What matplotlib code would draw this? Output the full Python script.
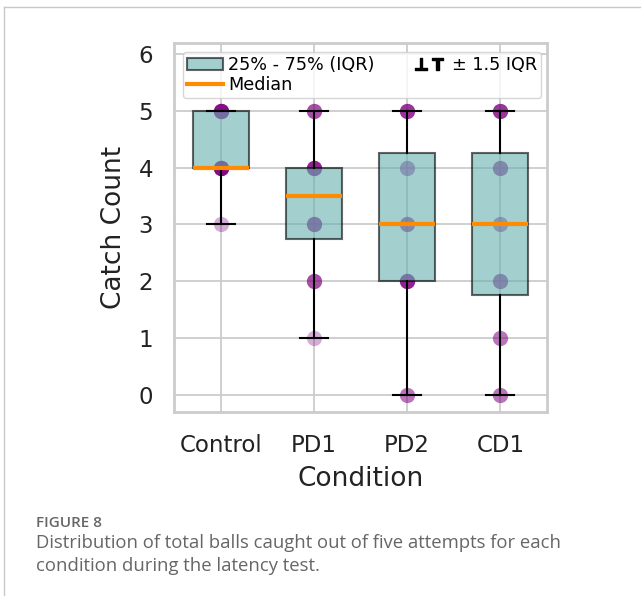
import matplotlib
matplotlib.use("Agg")
import matplotlib.pyplot as plt
from matplotlib.patches import Patch
from matplotlib.lines import Line2D

conditions = ["Control", "PD1", "PD2", "CD1"]
control = [3, 4, 4, 4, 4, 4, 4, 4, 4, 5, 5, 5, 5, 5, 5, 5]
pd1 = [1, 2, 2, 2, 3, 3, 3, 3, 4, 4, 4, 4, 4, 5, 5, 5]
pd2 = [0, 0, 2, 2, 2, 2, 2, 3, 3, 3, 4, 4, 5, 5, 5, 5]
cd1 = [0, 0, 1, 1, 2, 2, 2, 3, 3, 4, 4, 4, 5, 5, 5, 5]
yticks = [0, 1, 2, 3, 4, 5, 6]

data = [control, pd1, pd2, cd1]
positions = [1, 2, 3, 4]

box_face = (0.40, 0.69, 0.69, 0.6)
box_edge = (0.0, 0.0, 0.0, 0.6)
gridc = "#cccccc"

plt.rcParams["font.family"] = "DejaVu Sans"

fig = plt.figure(figsize=(6.41, 5.96), dpi=100)
ax = fig.add_axes([174 / 641, 1 - 411.5 / 596, (547 - 174) / 641, (411.5 - 43) / 596])

for pos, vals in zip(positions, data):
    ax.scatter([pos] * len(vals), vals, s=120, color="purple", alpha=0.32,
               linewidths=0, zorder=2)

ax.boxplot(data, positions=positions, widths=0.6, patch_artist=True,
           showfliers=False, whis=1.5, zorder=3,
           boxprops=dict(facecolor=box_face, edgecolor=box_edge, linewidth=1.5),
           medianprops=dict(color="darkorange", linewidth=3),
           whiskerprops=dict(color="black", linewidth=1.5),
           capprops=dict(color="black", linewidth=1.5))

ax.set_xlim(0.5, 4.5)
ax.set_ylim(-0.29, 6.19)
ax.set_yticks(yticks)
ax.set_xticks(positions)
ax.set_xticklabels(conditions)
ax.tick_params(axis="both", length=0, labelsize=16.5, colors="#222222")
ax.tick_params(axis="y", pad=15)
ax.tick_params(axis="x", pad=16)
ax.set_axisbelow(True)
ax.grid(True, color=gridc, linewidth=1.3)
for sp in ax.spines.values():
    sp.set_color(gridc)
    sp.set_linewidth(2)

ax.set_xlabel("Condition", fontsize=19, labelpad=7, color="#222222")
ax.set_ylabel("Catch Count", fontsize=19, labelpad=8, color="#222222")

handles = [
    Patch(facecolor=box_face, edgecolor=box_edge, linewidth=1.5, label="25% - 75% (IQR)"),
    Line2D([], [], color="darkorange", linewidth=3, label="Median"),
    Line2D([], [], linestyle="none", marker=r"$\mathbf{\bot T}$", color="black",
           markersize=20, label="± 1.5 IQR"),
]
ax.legend(handles=handles, loc="upper left", ncol=2, fontsize=12.7,
          labelspacing=0.1, handletextpad=0.3, columnspacing=2.1,
          borderpad=0.25, framealpha=0.8, edgecolor=gridc)

# page frame and caption
fig.add_artist(Line2D([4 / 641, 1], [1 - 7 / 596, 1 - 7 / 596], color="#c8c8c8", linewidth=1))
fig.add_artist(Line2D([4 / 641, 4 / 641], [0, 1 - 7 / 596], color="#c8c8c8", linewidth=1))
fig.text(36 / 641, 1 - 527 / 596, "FIGURE 8", fontsize=11, fontweight="semibold",
         family="Open Sans", color="#666666")
fig.text(36 / 641, 1 - 548 / 596, "Distribution of total balls caught out of five attempts for each",
         fontsize=13.3, family="Open Sans", color="#666666")
fig.text(36 / 641, 1 - 571 / 596, "condition during the latency test.",
         fontsize=13.3, family="Open Sans", color="#666666")

fig.savefig("out.png", dpi=100)
